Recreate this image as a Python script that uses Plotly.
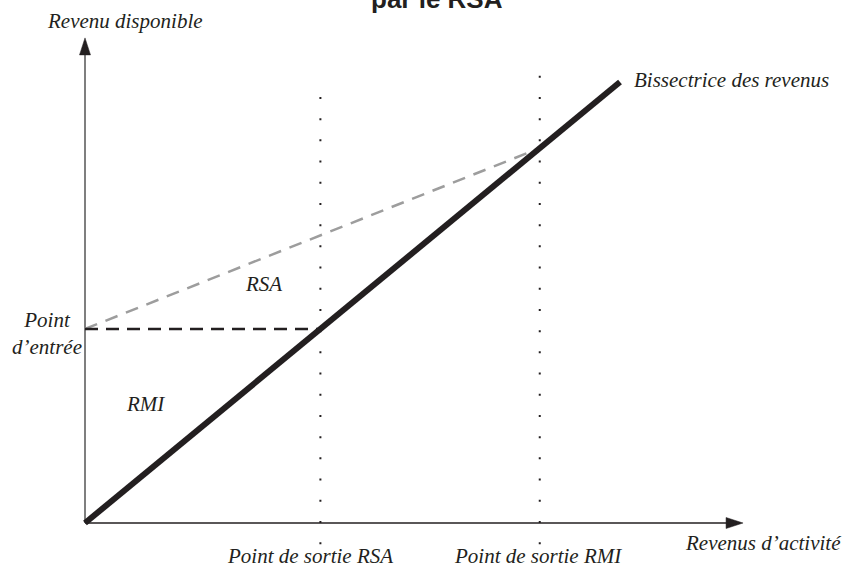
import plotly.graph_objects as go

# Schéma RMI / RSA (unités arbitraires : revenu d'activité -> revenu disponible)
bissectrice_x = [0, 10]
bissectrice_y = [0, 10]

point_entree = 4.4          # revenu garanti sans activité
sortie_rsa = 4.4            # fin de la zone RMI (entrée = bissectrice)
sortie_rmi = 8.5            # sortie du dispositif RSA

rsa_x = [0, sortie_rmi]
rsa_y = [point_entree, sortie_rmi]
rmi_x = [0, sortie_rsa]
rmi_y = [point_entree, point_entree]

axe_x_max = 12.3
axe_y_max = 11.0
pointilles_bas = -0.48
pointilles_haut = [9.66, 10.14]
pointilles_x = [sortie_rsa, sortie_rmi]

labels_sortie = ["Point de sortie RSA", "Point de sortie RMI"]

W, H = 845, 570
ORIG_X, ORIG_Y = 85, 523      # pixel position of the origin
SX, SY = 53.5, 44.1           # pixels per unit

INK = "#231f20"
SERIF = "Liberation Serif"


def paper(px, py):
    return px / W, 1 - py / H


fig = go.Figure()

# axes
fig.add_trace(go.Scatter(x=[0, 0], y=[0, axe_y_max - 15 / SY], mode="lines",
                         line=dict(color="#555555", width=1.5), hoverinfo="skip"))
fig.add_trace(go.Scatter(x=[0, axe_x_max - 15 / SX], y=[0, 0], mode="lines",
                         line=dict(color=INK, width=1.5), hoverinfo="skip"))

# arrow heads
hl_y, hw_y = 17 / SY, 5.5 / SX
fig.add_trace(go.Scatter(x=[-hw_y, hw_y, 0, -hw_y], y=[axe_y_max - hl_y, axe_y_max - hl_y, axe_y_max, axe_y_max - hl_y],
                         mode="lines", fill="toself", fillcolor=INK, line=dict(color=INK, width=0.5),
                         hoverinfo="skip"))
hl_x, hw_x = 17 / SX, 5.5 / SY
fig.add_trace(go.Scatter(x=[axe_x_max - hl_x, axe_x_max - hl_x, axe_x_max, axe_x_max - hl_x],
                         y=[-hw_x, hw_x, 0, -hw_x],
                         mode="lines", fill="toself", fillcolor=INK, line=dict(color=INK, width=0.5),
                         hoverinfo="skip"))

# dotted verticals
for xv, top in zip(pointilles_x, pointilles_haut):
    fig.add_trace(go.Scatter(x=[xv, xv], y=[pointilles_bas, top], mode="lines",
                             line=dict(color=INK, width=2, dash="2px,19.2px"), hoverinfo="skip"))

# RSA (gray dashed) and RMI (black dashed)
fig.add_trace(go.Scatter(x=rsa_x, y=rsa_y, mode="lines",
                         line=dict(color="#9d9d9d", width=2.5, dash="13px,9px"), hoverinfo="skip"))
fig.add_trace(go.Scatter(x=rmi_x, y=rmi_y, mode="lines",
                         line=dict(color=INK, width=2.5, dash="13px,8px"), hoverinfo="skip"))

# bissectrice
fig.add_trace(go.Scatter(x=bissectrice_x, y=bissectrice_y, mode="lines",
                         line=dict(color=INK, width=6), hoverinfo="skip"))


def label(text, px, py, xanchor="center", size=21, align="center"):
    x, y = paper(px, py)
    fig.add_annotation(x=x, y=y, xref="paper", yref="paper", text="<i>" + text + "</i>", showarrow=False,
                       xanchor=xanchor, yanchor="middle", align=align,
                       font=dict(family=SERIF, size=size, color=INK))


label("Revenu disponible", 45, 21, xanchor="left")
label("Bissectrice des revenus", 632, 80, xanchor="left")
label("RSA", 263, 284)
label("RMI", 145, 404)
label("Point<br>d’entrée", 47, 333, align="center")
label(labels_sortie[0], 310, 556)
label(labels_sortie[1], 538, 556)
label("Revenus d’activité", 683, 543, xanchor="left")

# title, cut off at the top as in the source
tx, ty = paper(437, -1)
fig.add_annotation(x=tx, y=ty, xref="paper", yref="paper", text="<b>par le RSA</b>", showarrow=False,
                   xanchor="center", yanchor="middle",
                   font=dict(family="Liberation Sans, Arial, sans-serif", size=26, color=INK))

fig.update_layout(
    width=W, height=H,
    margin=dict(l=0, r=0, t=0, b=0),
    paper_bgcolor="white", plot_bgcolor="white",
    showlegend=False,
    xaxis=dict(range=[-ORIG_X / SX, (W - ORIG_X) / SX], visible=False, fixedrange=True),
    yaxis=dict(range=[-(H - ORIG_Y) / SY, ORIG_Y / SY], visible=False, fixedrange=True),
)

fig.write_html("out.html", config={"displayModeBar": False},
               post_script="document.body.style.margin='0';")
